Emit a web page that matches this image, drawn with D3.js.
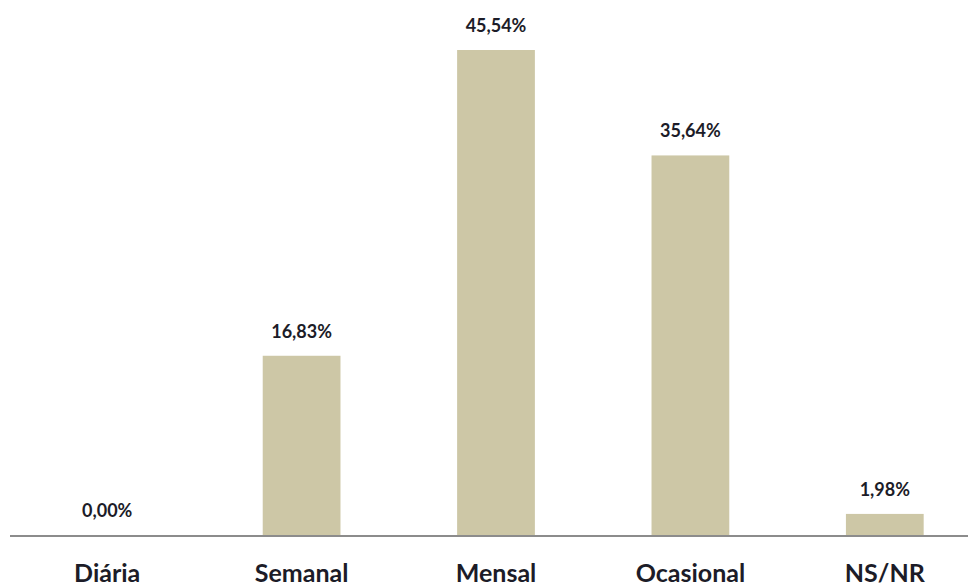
<!DOCTYPE html>
<html>
<head>
<meta charset="utf-8">
<script src="https://cdn.jsdelivr.net/npm/d3@7/dist/d3.min.js"></script>
<style>
  html, body { margin: 0; padding: 0; background: #fff; }
  svg { display: block; }
</style>
</head>
<body>
<svg id="chart" width="968" height="587"></svg>
<script>
// Frequency categories and their share of responses (%)
const categories = ["Diária", "Semanal", "Mensal", "Ocasional", "NS/NR"];
const values = [0.00, 16.83, 45.54, 35.64, 1.98];
const valueLabels = ["0,00%", "16,83%", "45,54%", "35,64%", "1,98%"];

const width = 968, height = 587;
const baseline = 535;

const svg = d3.select("#chart");

const x = d3.scaleBand()
  .domain(categories)
  .range([10, 982])
  .paddingInner(0.6)
  .paddingOuter(0.3);

const y = d3.scaleLinear()
  .domain([0, 50])
  .range([baseline, baseline - 532.5]);

const rows = categories.map((c, i) => ({ cat: c, value: values[i], label: valueLabels[i] }));

// Bars
svg.append("g")
  .selectAll("rect")
  .data(rows)
  .join("rect")
  .attr("x", d => x(d.cat))
  .attr("y", d => y(d.value))
  .attr("width", x.bandwidth())
  .attr("height", d => y(0) - y(d.value))
  .attr("fill", "#cdc7a6");

// Value labels above each bar
svg.append("g")
  .selectAll("text")
  .data(rows)
  .join("text")
  .attr("x", d => x(d.cat) + x.bandwidth() / 2)
  .attr("y", d => y(d.value) - 18)
  .attr("text-anchor", "middle")
  .attr("font-family", "Lato, 'Open Sans', sans-serif")
  .attr("font-weight", 700)
  .attr("font-size", 18)
  .attr("fill", "#1c1c28")
  .text(d => d.label);

// Category axis along the baseline
const axis = svg.append("g")
  .attr("transform", `translate(0,${baseline})`)
  .call(d3.axisBottom(x).tickSize(0).tickPadding(29));

axis.select(".domain").remove();
axis.append("line")
  .attr("x1", 10).attr("x2", width)
  .attr("y1", 1).attr("y2", 1)
  .attr("stroke", "#8c8c8c")
  .attr("stroke-width", 2);

axis.selectAll(".tick text")
  .attr("font-family", "Lato, 'Open Sans', sans-serif")
  .attr("font-weight", 700)
  .attr("font-size", 25)
  .attr("fill", "#1c1c28");
</script>
</body>
</html>
